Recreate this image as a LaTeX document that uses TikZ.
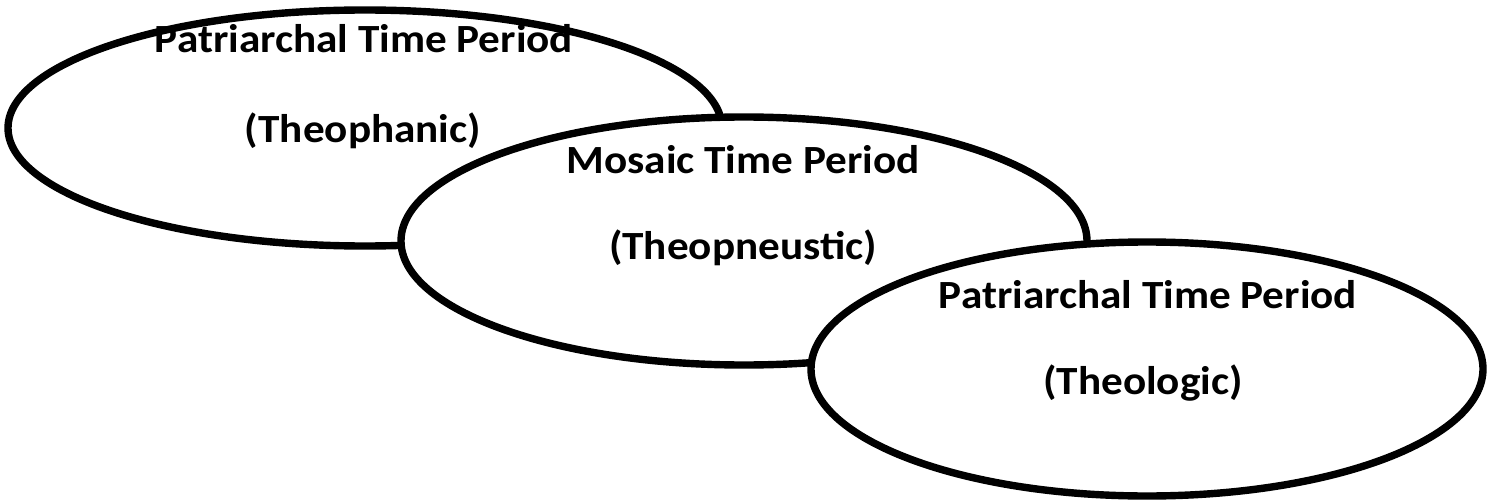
\documentclass[tikz,border=0pt]{standalone}
\usepackage{fontspec}
\setmainfont{Carlito}[FakeStretch=1.08]
\usetikzlibrary{shapes.geometric}
\begin{document}
\begin{tikzpicture}[x=0.5pt,y=-0.5pt,
  oval/.style={ellipse, fill=white, inner sep=0pt},
  rim/.style={draw=black, line width=3.7pt},
  lbl/.style={anchor=base, inner sep=0pt, font=\fontsize{20}{24}\selectfont\bfseries}]
\useasboundingbox (0,0) rectangle (1490,503);
% first oval
\node[oval, minimum width=357pt, minimum height=118pt] (e1) at (365,128) {};
\node[lbl] (t1a) at (364,53) {Patriarchal Time Period};
\node[lbl] (t1b) at (363,142) {(Theophanic)};
\draw[rim] (e1.center) ellipse [x radius=178.5pt, y radius=59pt];
% second oval
\node[oval, minimum width=343pt, minimum height=124pt] (e2) at (744,241) {};
\node[lbl] (t2a) at (743,173) {Mosaic Time Period};
\node[lbl] (t2b) at (743,259) {(Theopneustic)};
\draw[rim] (e2.center) ellipse [x radius=171.5pt, y radius=62pt];
% third oval
\node[oval, minimum width=336pt, minimum height=127pt] (e3) at (1147,369) {};
\node[lbl] (t3a) at (1148,308) {Patriarchal Time Period};
\node[lbl] (t3b) at (1143,394) {(Theologic)};
\draw[rim] (e3.center) ellipse [x radius=168pt, y radius=63.5pt];
\end{tikzpicture}
\end{document}
